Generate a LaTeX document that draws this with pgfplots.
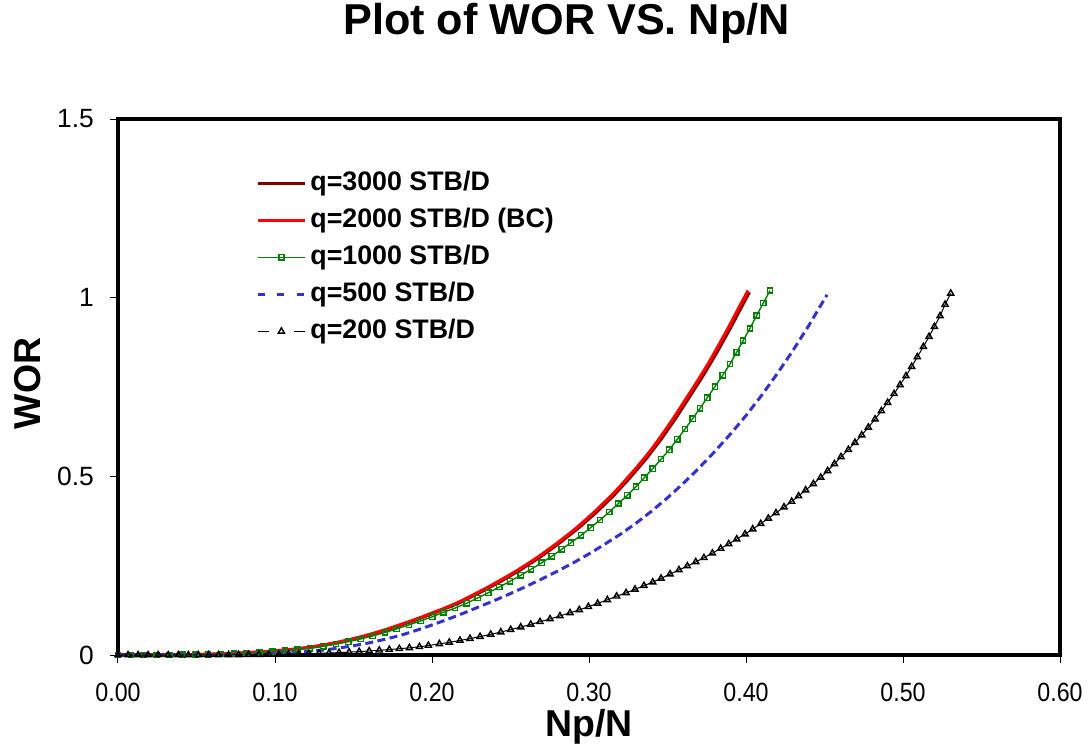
\documentclass[border=0pt]{standalone}
\usepackage{pgfplots}
\pgfplotsset{compat=1.18}
\usepackage{fontspec}
\setmainfont{Liberation Sans}

\definecolor{xldred}{RGB}{128,0,0}
\definecolor{xlgreen}{RGB}{0,128,0}
\definecolor{xlblue}{RGB}{51,51,204}

\pgfplotsset{
    leg blue/.style={legend image code/.code={\draw[##1, dash pattern=on 3.5pt off 6.2pt] (0pt,0pt) -- (23.5pt,0pt); \path (25.5pt,0pt);}},
    leg black/.style={legend image code/.code={\draw[##1, mark=none] (0pt,0pt) -- (5.5pt,0pt) (18pt,0pt) -- (23.5pt,0pt); \draw[##1] plot coordinates {(11.75pt,0pt)}; \path (25.5pt,0pt);}},
}

\begin{document}
\begin{tikzpicture}
\begin{axis}[
    name=ax,
    scale only axis,
    width=471pt, height=268pt,
    xmin=0, xmax=0.6,
    ymin=0, ymax=1.5,
    xtick={0,0.1,0.2,0.3,0.4,0.5,0.6},
    ytick={0,0.5,1,1.5},
    yticklabels={0,0.5,1,1.5},
    xticklabel={\scalebox{0.88}[1]{\pgfmathprintnumber[fixed,fixed zerofill,precision=2]{\tick}}},
    /pgf/number format/assume math mode=true,
    tick align=outside,
    xtick pos=bottom, ytick pos=left,
    major tick length=4pt,
    tick style={black, line width=0.5pt},
    axis line style={line width=2pt},
    tick label style={font=\fontsize{13.2}{15}\selectfont},
    x tick label style={yshift=-6.5pt},
    y tick label style={xshift=-4.5pt},
    title={Plot of WOR VS. Np/N},
    title style={at={(axis description cs:0.4761,1.1567)}, anchor=center,
        font=\fontsize{21.6}{26}\selectfont\bfseries},
    xlabel={Np/N},
    xlabel style={at={(axis description cs:0.5,-0.1343)}, anchor=center,
        font=\fontsize{18.7}{22}\selectfont\bfseries},
    ylabel={WOR},
    ylabel style={at={(axis description cs:-0.0961,0.5065)}, anchor=center,
        font=\fontsize{18.7}{22}\selectfont\bfseries},
    clip=false,
    legend cell align=left,
    legend style={draw=none, fill=none, inner sep=0pt,
        at={(axis description cs:0.1465,0.905)}, anchor=north west,
        font=\fontsize{13.4}{16}\selectfont\bfseries,
        nodes={inner sep=0pt, text height=10pt, text depth=3pt},
        row sep=5.5pt},
    legend image code/.code={\draw[mark repeat=2,mark phase=2,#1] plot coordinates {(0pt,0pt) (11.75pt,0pt) (23.5pt,0pt)}; \path (25.5pt,0pt);},
]

% q=3000
\addplot[color=xldred, line width=1.5pt, no marks] table {
x y
0 0
0.0293 0.00035
0.0457 0.0012
0.0621 0.0028
0.0784 0.0055
0.0949 0.0095
0.1108 0.0152
0.1270 0.0243
0.1428 0.0372
0.1581 0.0533
0.1732 0.0730
0.1882 0.0955
0.2024 0.1192
0.2170 0.1450
0.2304 0.1744
0.2439 0.2063
0.2569 0.2398
0.2696 0.2762
0.2815 0.3143
0.2936 0.3563
0.3049 0.4002
0.3159 0.4470
0.3261 0.4962
0.3362 0.5480
0.3459 0.6035
0.3551 0.6615
0.3637 0.7200
0.3728 0.7825
0.3815 0.8470
0.3900 0.9140
0.3985 0.9850
0.4022 1.0150
};

% q=2000 (BC)
\addplot[color=red, line width=1.5pt, no marks] table {
x y
0 0
0.0196 0.00015
0.0278 0.00035
0.036 0.0007
0.0442 0.0012
0.0524 0.0019
0.0606 0.0028
0.0689 0.0040
0.0769 0.0055
0.0849 0.0073
0.0934 0.0095
0.1013 0.0120
0.1093 0.0152
0.1171 0.0190
0.1255 0.0243
0.1336 0.0305
0.1413 0.0372
0.1491 0.0450
0.1566 0.0533
0.1644 0.0630
0.1717 0.0730
0.1794 0.0845
0.1867 0.0955
0.1940 0.1072
0.2009 0.1192
0.2081 0.1312
0.2155 0.1450
0.2223 0.1595
0.2289 0.1744
0.2358 0.1903
0.2424 0.2063
0.2490 0.2230
0.2554 0.2398
0.2620 0.2583
0.2681 0.2762
0.2743 0.2958
0.2800 0.3143
0.2861 0.3350
0.2921 0.3563
0.2977 0.3778
0.3034 0.4002
0.3089 0.4240
0.3144 0.4470
0.3196 0.4710
0.3246 0.4962
0.3297 0.5214
0.3347 0.5480
0.3396 0.5745
0.3444 0.6035
0.3490 0.6320
0.3536 0.6615
0.3579 0.6905
0.3622 0.7200
0.3668 0.7510
0.3713 0.7825
0.3758 0.8145
0.3800 0.8470
0.3842 0.8800
0.3885 0.9140
0.3928 0.9500
0.3970 0.9850
0.4013 1.0200
};

% q=1000
\addplot[color=xlgreen, line width=0.7pt, mark=square, mark size=1.3pt,
    mark options={solid, line width=0.7pt}] table {
x y
0 0
0.0082 0
0.0164 0.00004
0.0246 0.00015
0.0328 0.00035
0.041 0.0007
0.0492 0.0012
0.0574 0.0019
0.0656 0.0028
0.0739 0.0040
0.082 0.0055
0.090 0.0073
0.0985 0.0095
0.1064 0.0120
0.1145 0.0152
0.1223 0.0190
0.1308 0.0243
0.1389 0.0305
0.1467 0.0372
0.1546 0.0450
0.1622 0.0533
0.1701 0.0630
0.1775 0.0730
0.1854 0.0845
0.1928 0.0955
0.2002 0.1072
0.2072 0.1192
0.2146 0.1312
0.2221 0.1450
0.2291 0.1595
0.2359 0.1744
0.2429 0.1903
0.2497 0.2063
0.2565 0.2230
0.2631 0.2398
0.2699 0.2583
0.2762 0.2762
0.2826 0.2958
0.2885 0.3143
0.2949 0.3350
0.3011 0.3563
0.3070 0.3778
0.3129 0.4002
0.3187 0.4240
0.3244 0.4470
0.3299 0.4710
0.3352 0.4962
0.3406 0.5214
0.3459 0.5480
0.3511 0.5745
0.3562 0.6035
0.3611 0.6320
0.3660 0.6615
0.3707 0.6905
0.3753 0.7200
0.3802 0.7510
0.3851 0.7825
0.3898 0.8145
0.3940 0.8470
0.3982 0.8800
0.4025 0.9140
0.4068 0.9500
0.4110 0.9850
0.4153 1.0200
};

% q=500
\addplot[color=xlblue, line width=1.5pt, no marks, dash pattern=on 4pt off 2.2pt, leg blue] table {
x y
0 0
0.04 0.0001
0.05 0.0002
0.06 0.0004
0.07 0.0008
0.08 0.0015
0.09 0.0025
0.10 0.0040
0.11 0.0065
0.12 0.0095
0.13 0.0135
0.14 0.0190
0.15 0.0260
0.16 0.0340
0.17 0.0440
0.18 0.0550
0.19 0.0690
0.20 0.0840
0.21 0.1000
0.22 0.1170
0.23 0.1350
0.24 0.1530
0.25 0.1720
0.26 0.1920
0.27 0.2130
0.28 0.2350
0.29 0.2580
0.30 0.2830
0.31 0.3100
0.32 0.3380
0.33 0.3690
0.34 0.4030
0.35 0.4400
0.36 0.4800
0.37 0.5230
0.38 0.5690
0.39 0.6180
0.40 0.6700
0.41 0.7270
0.42 0.7880
0.43 0.8530
0.44 0.9220
0.4516 1.0080
};

% q=200
\addplot[color=black, line width=0.5pt, mark=triangle, mark size=1.75pt,
    mark options={solid, line width=0.7pt}, leg black] table {
x y
0 0
0.0064 0
0.0128 0
0.0192 0
0.0256 0
0.032 0
0.0384 0
0.0448 0.0001
0.0512 0.0001
0.0576 0.0002
0.064 0.0003
0.0704 0.0004
0.0768 0.0006
0.0832 0.0008
0.0896 0.0011
0.096 0.0015
0.1024 0.0019
0.1088 0.0024
0.1152 0.0030
0.1216 0.0037
0.128 0.0046
0.1344 0.0056
0.1408 0.0067
0.1472 0.0080
0.1536 0.0095
0.16 0.0113
0.1664 0.0132
0.1728 0.0153
0.1792 0.0176
0.1856 0.0201
0.192 0.0230
0.1977 0.0265
0.2047 0.0310
0.211 0.0355
0.2178 0.0408
0.2242 0.0460
0.2306 0.0515
0.2374 0.0578
0.2438 0.0642
0.2501 0.0710
0.2565 0.0782
0.2629 0.0857
0.2688 0.0930
0.2752 0.1010
0.2815 0.1093
0.2879 0.1180
0.2938 0.1265
0.2996 0.1352
0.3055 0.1445
0.3117 0.1545
0.3176 0.1645
0.3236 0.1740
0.3293 0.1838
0.3350 0.1940
0.3406 0.2040
0.3459 0.2145
0.3516 0.2265
0.3573 0.2380
0.3626 0.2490
0.3680 0.2605
0.3732 0.2722
0.3786 0.2850
0.3839 0.2980
0.3890 0.3110
0.3941 0.3245
0.3994 0.3385
0.4043 0.3525
0.4094 0.3675
0.4142 0.3825
0.4191 0.3975
0.4242 0.4140
0.4291 0.4295
0.4335 0.4450
0.4380 0.4615
0.4429 0.4790
0.4476 0.4970
0.4520 0.5155
0.4563 0.5350
0.4605 0.5545
0.4652 0.5745
0.4694 0.5945
0.4737 0.6155
0.4779 0.6370
0.4822 0.6600
0.4862 0.6830
0.4902 0.7065
0.4943 0.7310
0.4981 0.7560
0.5019 0.7810
0.5055 0.8070
0.5091 0.8340
0.5130 0.8630
0.5166 0.8910
0.5200 0.9190
0.5236 0.9490
0.5268 0.9810
0.5304 1.0120
};

\legend{q=3000 STB/D, q=2000 STB/D (BC), q=1000 STB/D, q=500 STB/D, q=200 STB/D}
\end{axis}
\pgfresetboundingbox
\path[use as bounding box] ([shift={(-59pt,-45.5pt)}]ax.south west) rectangle ([shift={(14pt,59.5pt)}]ax.north east);
\end{tikzpicture}
\end{document}
